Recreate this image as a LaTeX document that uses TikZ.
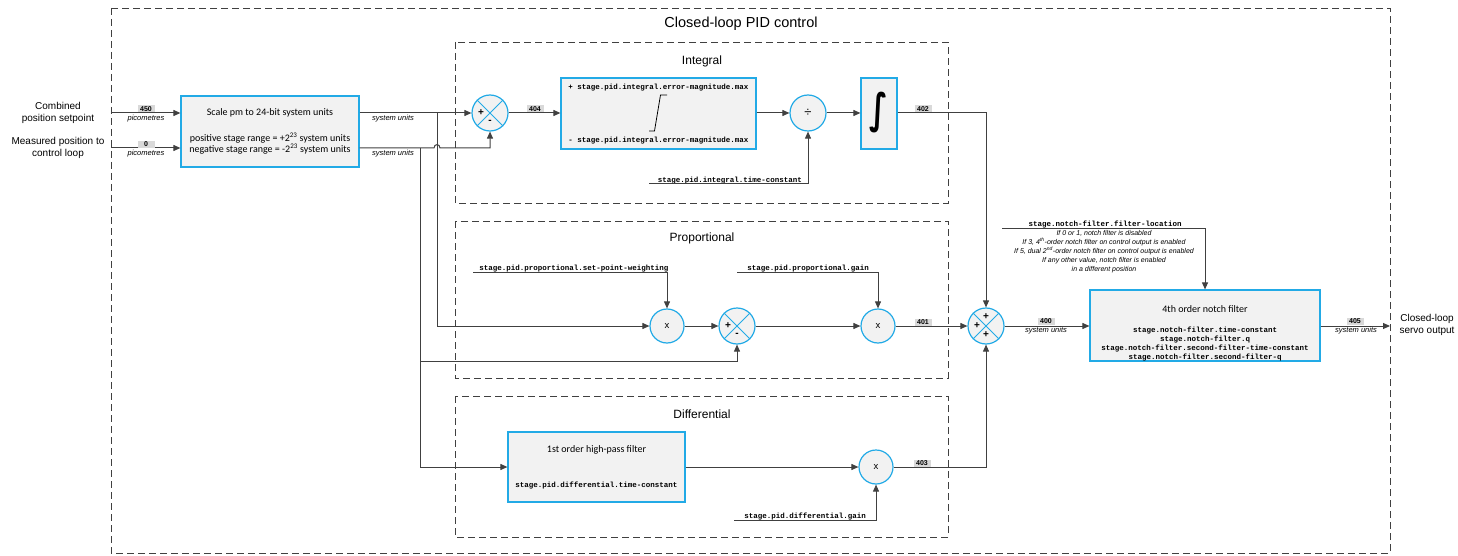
\documentclass[tikz,border=0pt]{standalone}
\usepackage{fontspec}
\setmainfont{Liberation Sans}
\newfontfamily\calfont{Carlito}
\newfontfamily\monofont{Liberation Mono}
\newfontfamily\djfont{DejaVu Sans}
\usetikzlibrary{arrows.meta,calc}
\definecolor{lc}{HTML}{404040}
\definecolor{bl}{HTML}{22AAE6}
\definecolor{bg}{HTML}{F2F2F2}
\definecolor{lb}{HTML}{D9D9D9}
\begin{document}
\begin{tikzpicture}[x=1pt,y=-1pt,
  ln/.style={draw=lc,line width=1pt},
  arr/.style={ln,-{Triangle[length=7pt,width=6pt]}},
  grp/.style={draw=lc,line width=0.9pt,dash pattern=on 7pt off 4pt},
  blk/.style={draw=bl,fill=bg,line width=1.2pt,inner sep=0pt},
  sumj/.style={circle,draw=bl,fill=bg,line width=1.2pt,minimum size=36pt,inner sep=0pt,font=\fontsize{13}{13}\selectfont},
  mul/.style={circle,draw=bl,fill=bg,line width=1.2pt,minimum size=34pt,inner sep=0pt,font=\fontsize{9.5}{10}\selectfont},
  ttl/.style={font=\fontsize{12}{14}\selectfont},
  lbl/.style={font=\fontsize{10}{12}\selectfont,align=center},
  cal/.style={font=\calfont\fontsize{10}{11}\selectfont,align=center},
  par/.style={font=\monofont\bfseries\fontsize{7.5}{9}\selectfont,inner sep=0pt,align=center},
  unit/.style={font=\itshape\fontsize{7.5}{9}\selectfont,inner sep=0pt},
  num/.style={fill=lb,font=\bfseries\fontsize{7}{8}\selectfont,inner sep=0pt,minimum width=17pt,minimum height=7pt},
  sgn/.style={font=\bfseries\fontsize{10}{10}\selectfont,inner sep=0pt},
  crs/.style={draw=bl,line width=1pt},
]
\useasboundingbox (0,0) rectangle (1458,556);

% groups
\draw[grp] (111,8) rectangle (1390,553);
\node[font=\fontsize{14.5}{16}\selectfont] (title) at (741,24) {Closed-loop PID control};
\draw[grp] (455,42) rectangle (948,203);
\node[ttl] (tint) at (702,61) {Integral};
\draw[grp] (455,221) rectangle (948,378);
\node[ttl] (tprop) at (702,238) {Proportional};
\draw[grp] (455,396) rectangle (948,537);
\node[ttl] (tdiff) at (702,414) {Differential};

% inputs
\node[lbl] (in1t) at (58,113) {Combined\\position setpoint};
\node[lbl] (in2t) at (58,148) {Measured position to\\control loop};
\coordinate (in1) at (111,113);
\coordinate (in2) at (111,148);
\node[blk,minimum width=178pt,minimum height=71pt] (scale) at (270,131.5) {};
\node[cal] (sc1) at (270,113) {Scale pm to 24-bit system units};
\node[cal] (sc2) at (270,143.5) {positive stage range = +2\textsuperscript{23} system units\\negative stage range = -2\textsuperscript{23} system units};
\draw[arr] (in1) -- (in1 -| scale.west);
\draw[arr] (in2) -- (in2 -| scale.west);
\node[num] (n450) at (146,109) {450};
\node[unit] (u450) at (146,119) {picometres};
\node[num] (n0) at (146,144.5) {0};
\node[unit] (u0) at (146,154) {picometres};

% sum 1
\node[sumj] (s1) at (490,113) {};
\draw[crs] (s1.45) -- (s1.225) (s1.135) -- (s1.315);
\node[sgn] (s1p) at (481,113) {+};
\node[sgn] (s1m) at (490,122) {-};

\coordinate (j1) at (437,113);
\coordinate (j2) at (420,148);
\coordinate (hopa) at (434,148);
\coordinate (hopb) at (440,148);
\coordinate (j3) at (420,361);
\draw[arr] (scale.east |- s1) -- (s1.west);
\draw[arr] (scale.east |- in2) -- (hopa) .. controls (434,143.5) and (440,143.5) .. (hopb) -- (s1.south |- in2) -- (s1.south);
\node[unit] (us1) at (393,119) {system units};
\node[unit] (us2) at (393,154) {system units};

% integral path
\node[num] (n404) at (535,109) {404};
\node[blk,minimum width=195pt,minimum height=71pt] (sat) at (658.5,113.5) {};
\node[par] (satp) at (658.5,88) {+ stage.pid.integral.error-magnitude.max};
\node[par] (satm) at (658.5,141) {- stage.pid.integral.error-magnitude.max};
\draw[draw=black,line width=0.8pt] (649,131) -- (654.5,131) -- (660.5,95) -- (667,95);
\draw[arr] (s1.east) -- (sat.west |- s1);
\node[sumj] (dv) at (808,113) {÷};
\draw[arr] (sat.east |- dv) -- (dv.west);
\node[blk,minimum width=36pt,minimum height=71pt] (intg) at (879,113.5) {};
\node[font=\djfont\bfseries\fontsize{32}{32}\selectfont,inner sep=0pt] (intsym) at (879,113) {\scalebox{0.95}[1.3]{∫}};
\draw[arr] (dv.east) -- (intg.west |- dv);
\node[num] (n402) at (923,109) {402};
\node[par] (itc) at (730,180.5) {stage.pid.integral.time-constant};
\coordinate (itcL) at (649,184);
\draw[arr] (itcL) -| (dv.south);

% sum 3
\node[sumj] (s3) at (986,326) {};
\draw[crs] (s3.45) -- (s3.225) (s3.135) -- (s3.315);
\node[sgn] (s3t) at (986,317) {+};
\node[sgn] (s3l) at (977,326) {+};
\node[sgn] (s3b) at (986,335) {+};
\draw[arr] (intg.east |- dv) -| (s3.north);

% proportional path
\node[mul] (m1) at (667,326) {x};
\node[sumj] (s2) at (737,326) {};
\draw[crs] (s2.45) -- (s2.225) (s2.135) -- (s2.315);
\node[sgn] (s2p) at (728,326) {+};
\node[sgn] (s2m) at (737,335) {-};
\node[mul] (m2) at (878,326) {x};
\draw[arr] (j1) |- (m1.west);
\draw[arr] (m1.east) -- (s2.west);
\draw[arr] (s2.east) -- (m2.west);
\draw[arr] (m2.east) -- (s3.west);
\draw[arr] (j3) -| (s2.south);
\node[par] (spw) at (574,268.5) {stage.pid.proportional.set-point-weighting};
\coordinate (spwL) at (473,272);
\draw[arr] (spwL) -| (m1.north);
\node[par] (pg) at (808,268.5) {stage.pid.proportional.gain};
\coordinate (pgL) at (737,272);
\draw[arr] (pgL) -| (m2.north);
\node[num] (n401) at (923,322) {401};

% differential path
\node[blk,minimum width=177pt,minimum height=70pt] (hp) at (596.5,467) {};
\node[cal] (hpt) at (596.5,450) {1st order high-pass filter};
\node[par] (hpc) at (596.5,486) {stage.pid.differential.time-constant};
\draw[arr] (j2) |- (hp.west);
\node[mul] (m3) at (876,467) {x};
\draw[arr] (hp.east) -- (m3.west);
\node[num] (n403) at (922,463) {403};
\draw[arr] (m3.east) -| (s3.south);
\node[par] (dg) at (805,516.5) {stage.pid.differential.gain};
\coordinate (dgL) at (734,520);
\draw[arr] (dgL) -| (m3.south);

% notch filter
\node[blk,minimum width=230pt,minimum height=71pt] (nf) at (1205,325.5) {};
\node[cal] (nft) at (1205,309) {4th order notch filter};
\node[par] (nfp) at (1205,344.5) {stage.notch-filter.time-constant\\stage.notch-filter.q\\stage.notch-filter.second-filter-time-constant\\stage.notch-filter.second-filter-q};
\draw[arr] (s3.east) -- (s3 -| nf.west);
\node[num] (n400) at (1046,321) {400};
\node[unit] (u400) at (1046,331) {system units};
\node[par] (fl) at (1105,224.5) {stage.notch-filter.filter-location};
\coordinate (flL) at (1002,228);
\draw[arr] (flL) -| (nf.north);
\node[font=\itshape\fontsize{7}{9}\selectfont,align=center,inner sep=0pt] (flt) at (1104,251.5) {If 0 or 1, notch filter is disabled\\If 3, 4\textsuperscript{th}-order notch filter on control output is enabled\\If 5, dual 2\textsuperscript{nd}-order notch filter on control output is enabled\\If any other value, notch filter is enabled\\in a different position};

% output
\coordinate (out) at (1390,326);
\draw[arr] (nf.east |- s3) -- (out);
\node[num] (n405) at (1355,321) {405};
\node[unit] (u405) at (1356,331) {system units};
\node[lbl] (outt) at (1427,325) {Closed-loop\\servo output};
\end{tikzpicture}
\end{document}
